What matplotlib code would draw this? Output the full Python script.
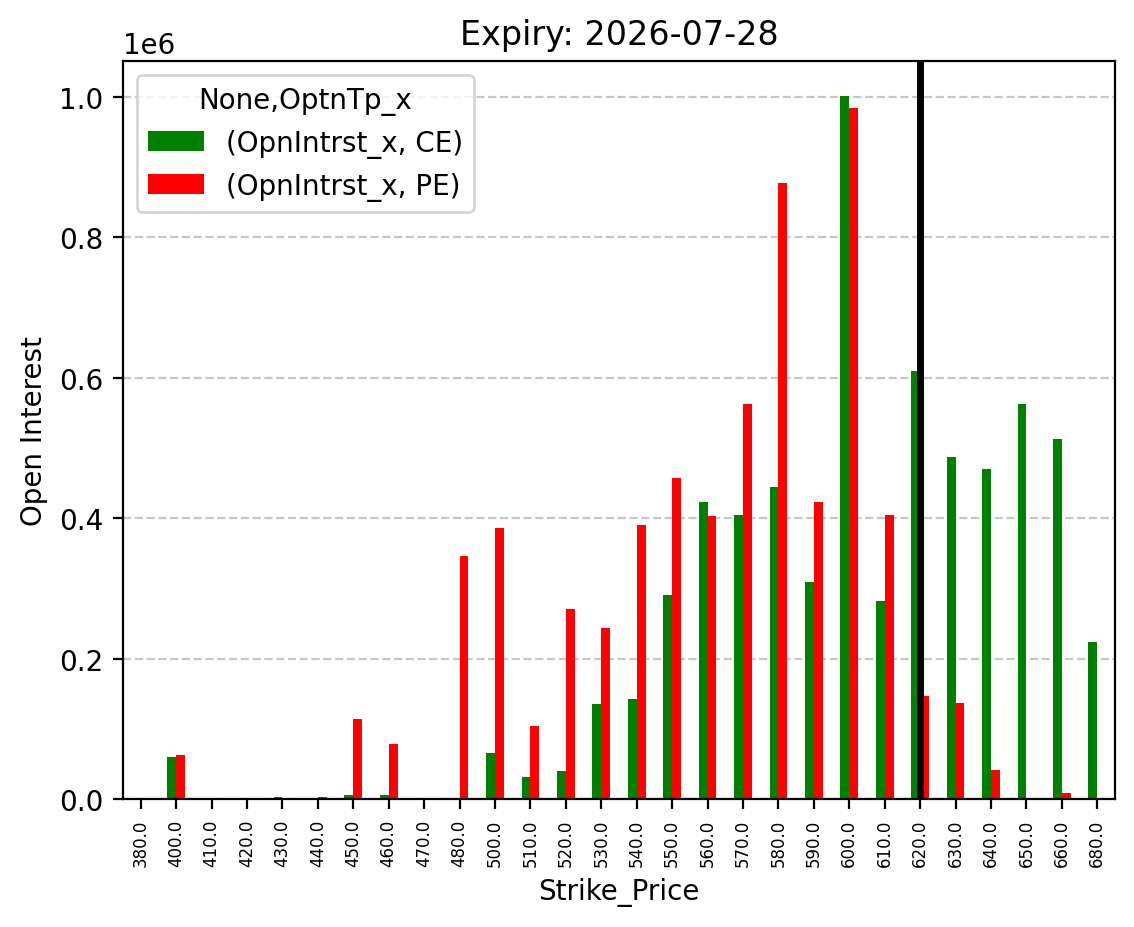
import matplotlib
matplotlib.use("Agg")
import matplotlib.pyplot as plt
import numpy as np

strikes = [380, 400, 410, 420, 430, 440, 450, 460, 470, 480, 500, 510, 520, 530,
           540, 550, 560, 570, 580, 590, 600, 610, 620, 630, 640, 650, 660, 680]
ce_oi = [0, 60000, 0, 2000, 3500, 0, 6000, 6000, 0, 1500, 66000, 32000, 40000, 135000,
         143000, 291000, 423000, 404000, 444000, 309000, 1001000, 282000, 610000, 487000,
         470000, 562000, 512000, 224000]
pe_oi = [0, 62000, 0, 0, 0, 3000, 114000, 79000, 1500, 346000, 386000, 104000, 271000, 243000,
         390000, 457000, 403000, 563000, 877000, 423000, 984000, 404000, 146000, 137000,
         41000, 0, 8000, 0]
spot_strike = 620
title = "Expiry: 2026-07-28"

fig = plt.figure(figsize=(5.67, 4.64), dpi=200)
ax = fig.add_axes([123/1134, 1-800/928, (1115-123)/1134, (800-62)/928])

x = np.arange(len(strikes))
w = 0.25
ax.bar(x - w/2, ce_oi, width=w, color="green", label="(OpnIntrst_x, CE)")
ax.bar(x + w/2, pe_oi, width=w, color="red", label="(OpnIntrst_x, PE)")
ax.set_xlim(-0.5, len(strikes) - 0.5)
ax.set_xticks(x)
ax.set_xticklabels([f"{float(s):.1f}" for s in strikes], rotation=90, fontsize=6)
ax.axvline(strikes.index(spot_strike), color="black", linewidth=2.5)
ax.grid(axis="y", linestyle="--", alpha=0.7)
ax.set_axisbelow(True)
ax.set_title(title, fontsize=12)
ax.set_xlabel("Strike_Price")
ax.set_ylabel("Open Interest")
ax.legend(title="None,OptnTp_x", loc="upper left")

fig.savefig("out.png", dpi=200)
